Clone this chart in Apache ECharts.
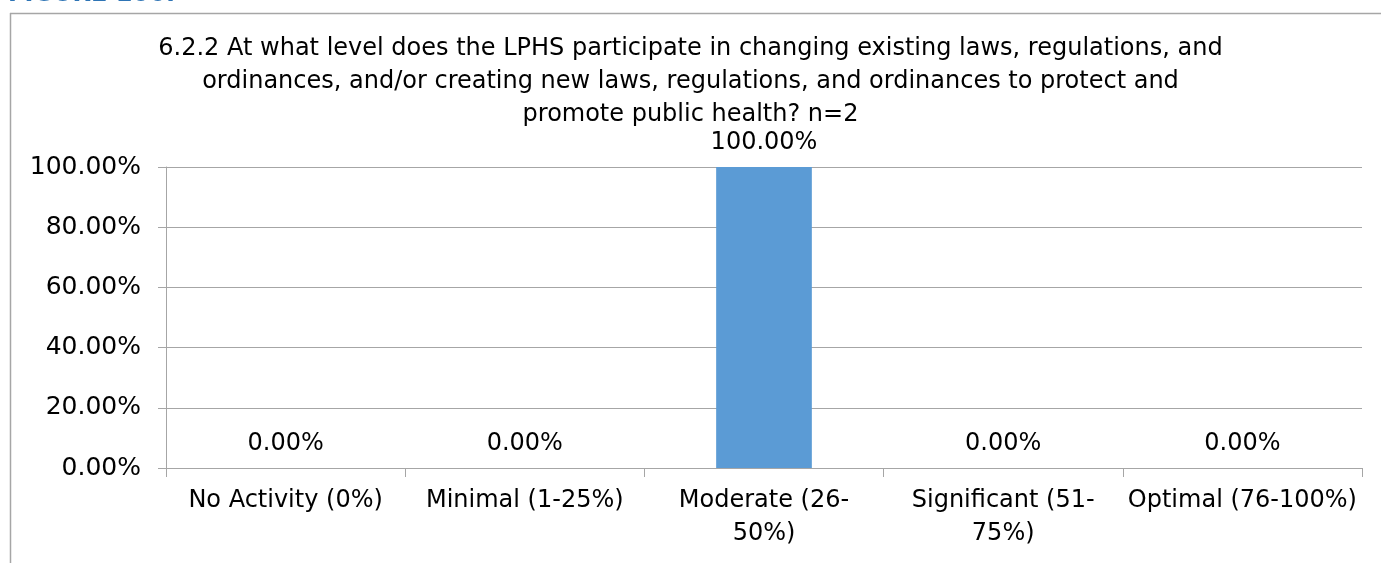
<!DOCTYPE html>
<html>
<head>
<meta charset="utf-8">
<script src="https://cdn.jsdelivr.net/npm/echarts@6/dist/echarts.min.js"></script>
<style>
html,body{margin:0;padding:0;background:#fff;}
#chart{width:1381px;height:563px;}
</style>
</head>
<body>
<div id="chart"></div>
<script>
const titleLines = [
  "6.2.2 At what level does the LPHS participate in changing existing laws, regulations, and",
  "ordinances, and/or creating new laws, regulations, and ordinances to protect and",
  "promote public health? n=2"
];
const categories = [
  "No Activity (0%)",
  "Minimal (1-25%)",
  "Moderate (26-\n50%)",
  "Significant (51-\n75%)",
  "Optimal (76-100%)"
];
const values = [0, 0, 1, 0, 0];
const yTicks = [0, 0.2, 0.4, 0.6, 0.8, 1.0];

const FONT = "DejaVu Sans";
const pct = v => (v * 100).toFixed(2) + "%";

const chart = echarts.init(document.getElementById("chart"));
chart.setOption({
  animation: false,
  backgroundColor: "#fff",
  textStyle: { fontFamily: FONT },
  title: {
    text: titleLines.join("\n"),
    left: "center",
    top: 27,
    textStyle: { fontFamily: FONT, fontSize: 24, fontWeight: "normal", color: "#000", lineHeight: 33 }
  },
  graphic: [
    { type: "line", shape: { x1: 10, y1: 13.5, x2: 1381, y2: 13.5 }, style: { stroke: "#a6a6a6", lineWidth: 1.5 } },
    { type: "line", shape: { x1: 10.5, y1: 13, x2: 10.5, y2: 563 }, style: { stroke: "#a6a6a6", lineWidth: 1.5 } },
    { type: "text", left: 8, top: -17, style: { text: "FIGURE 106:", fill: "#2E74B5", font: "bold 24px " + FONT } }
  ],
  grid: { left: 166, right: 19, top: 167, bottom: 95, containLabel: false },
  xAxis: {
    type: "category",
    data: categories,
    axisLine: { show: true, lineStyle: { color: "#a6a6a6", width: 1 } },
    axisTick: { show: true, length: 9, alignWithLabel: false, lineStyle: { color: "#a6a6a6" } },
    axisLabel: { interval: 0, color: "#000", fontFamily: FONT, fontSize: 24, lineHeight: 33, margin: 16 }
  },
  yAxis: {
    type: "value",
    min: yTicks[0],
    max: yTicks[yTicks.length - 1],
    interval: yTicks[1] - yTicks[0],
    axisLine: { show: true, lineStyle: { color: "#a6a6a6", width: 1 } },
    axisTick: { show: true, length: 8, lineStyle: { color: "#a6a6a6" } },
    splitLine: { show: true, lineStyle: { color: "#a6a6a6", width: 1 } },
    axisLabel: { color: "#000", fontFamily: FONT, fontSize: 25, margin: 25, formatter: pct }
  },
  series: [{
    type: "bar",
    data: values,
    barWidth: "40%",
    itemStyle: { color: "#5B9BD5" },
    label: { show: true, position: "top", distance: 12, color: "#000", fontFamily: FONT, fontSize: 24, formatter: p => pct(p.value) }
  }]
});
</script>
</body>
</html>
